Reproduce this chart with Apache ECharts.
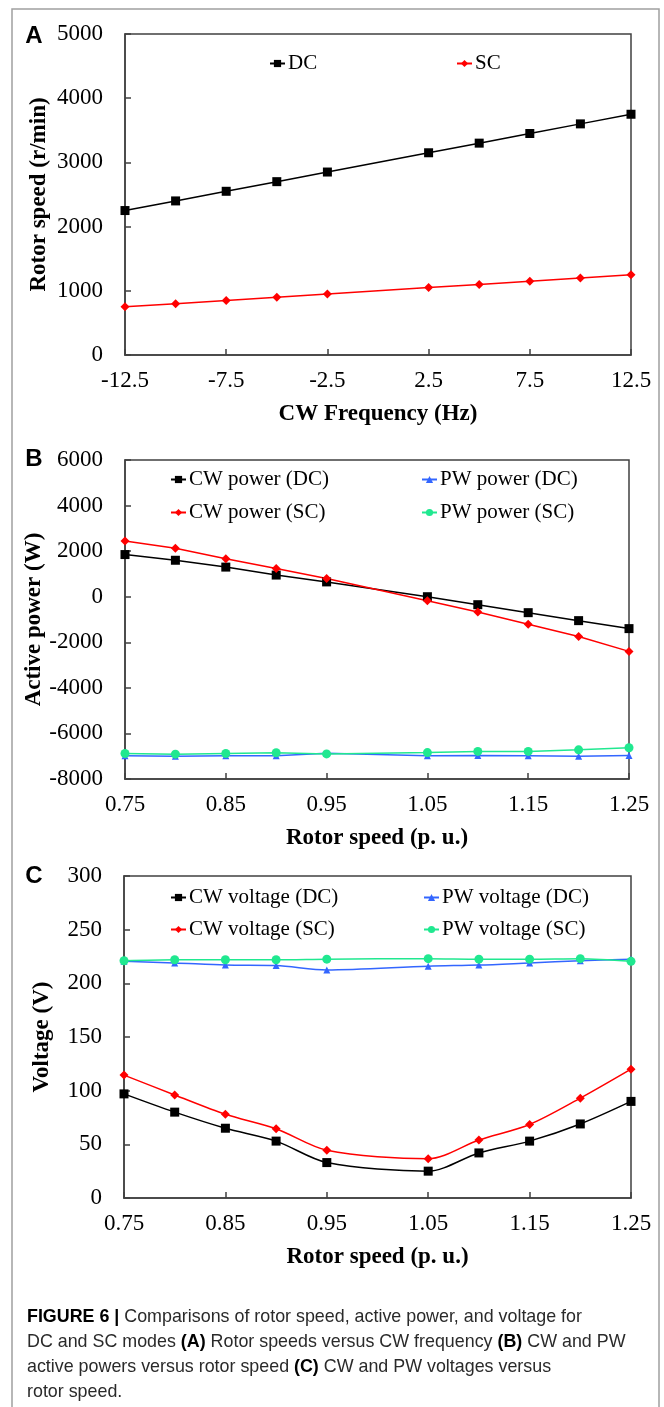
<!DOCTYPE html>
<html><head><meta charset="utf-8">
<script src="https://cdn.jsdelivr.net/npm/echarts@6/dist/echarts.min.js"></script>
<style>html,body{margin:0;padding:0;background:#fff}#c{width:664px;height:1407px}</style>
</head><body><div id="c"></div>
<script>
// ---- Panel A data ----
const freqA = [-12.5, -10, -7.5, -5, -2.5, 2.5, 5, 7.5, 10, 12.5];
const speedDC = [2250, 2400, 2550, 2700, 2850, 3150, 3300, 3450, 3600, 3750];
const speedSC = [750, 800, 850, 900, 950, 1050, 1100, 1150, 1200, 1250];
const ticksAX = [-12.5, -7.5, -2.5, 2.5, 7.5, 12.5];
const ticksAY = [0, 1000, 2000, 3000, 4000, 5000];
// ---- Panel B data ----
const rotorPU = [0.75, 0.8, 0.85, 0.9, 0.95, 1.05, 1.1, 1.15, 1.2, 1.25];
const cwPowerDC = [1850, 1600, 1300, 950, 650, 0, -350, -700, -1050, -1400];
const cwPowerSC = [2440, 2130, 1670, 1240, 800, -175, -670, -1210, -1750, -2400];
const pwPowerDC = [-6980, -7000, -6980, -6980, -6870, -6980, -6970, -6980, -7000, -6970];
const pwPowerSC = [-6880, -6910, -6880, -6850, -6900, -6840, -6790, -6790, -6720, -6630];
const ticksBY = [-8000, -6000, -4000, -2000, 0, 2000, 4000, 6000];
const ticksPU = [0.75, 0.85, 0.95, 1.05, 1.15, 1.25];
// ---- Panel C data ----
const cwVoltDC = [97, 80, 65, 53, 33, 25, 42, 53, 69, 90];
const cwVoltSC = [114.5, 96, 78, 64.5, 44.5, 36.5, 54, 68.5, 93, 120];
const pwVoltDC = [220.5, 219, 217, 216.5, 212.5, 216, 217, 219, 221, 222.5];
const pwVoltSC = [221, 222, 222, 222, 222.5, 223, 222.5, 222.5, 223, 220.5];
const ticksCY = [0, 50, 100, 150, 200, 250, 300];

const SERIF = '"Liberation Serif","Times New Roman",serif';
const SANS = '"Liberation Sans",Arial,sans-serif';
const AX = '#404040';
const BLACK = '#000000', RED = '#ff0000', BLUE = '#3366ff', GREEN = '#20e890';

function pairs(xs, ys) { return xs.map((x, i) => [x, ys[i]]); }

function xAxisCfg(gi, min, max, interval, ticks, name, dec) {
  return {
    type: 'value', gridIndex: gi, min: min, max: max, interval: interval,
    name: name, nameLocation: 'middle', nameGap: 48, nameMoveOverlap: false,
    nameTextStyle: { fontFamily: SERIF, fontWeight: 'bold', fontSize: 23, color: '#000' },
    axisLine: { show: true, onZero: false, lineStyle: { color: AX, width: 1.5 } },
    axisTick: { show: true, inside: true, length: 6, customValues: ticks, lineStyle: { color: AX, width: 1.5 } },
    axisLabel: { customValues: ticks, margin: 14, fontFamily: SERIF, fontSize: 23, color: '#000',
      formatter: v => Number(v).toFixed(dec) },
    splitLine: { show: false }
  };
}
function yAxisCfg(gi, min, max, interval, ticks, name, gap) {
  return {
    type: 'value', gridIndex: gi, min: min, max: max, interval: interval,
    name: name, nameLocation: 'middle', nameGap: gap, nameRotate: 90, nameMoveOverlap: false,
    nameTextStyle: { fontFamily: SERIF, fontWeight: 'bold', fontSize: 23, color: '#000' },
    axisLine: { show: true, onZero: false, lineStyle: { color: AX, width: 1.5 } },
    axisTick: { show: true, inside: true, length: 6, customValues: ticks, lineStyle: { color: AX, width: 1.5 } },
    axisLabel: { customValues: ticks, margin: 22, fontFamily: SERIF, fontSize: 23, color: '#000',
      formatter: v => String(Math.round(v)) },
    splitLine: { show: false }
  };
}
function lineSeries(name, gi, xs, ys, color, symbol, size, smooth) {
  return {
    name: name, type: 'line', xAxisIndex: gi, yAxisIndex: gi,
    data: pairs(xs, ys), smooth: smooth || false,
    symbol: symbol, symbolSize: size, showAllSymbol: true,
    lineStyle: { color: color, width: 1.5 },
    itemStyle: { color: color, borderWidth: 0 },
    emphasis: { disabled: true }
  };
}
function legendCfg(names, left, top, gap) {
  return {
    data: names, left: left, top: top, orient: 'vertical', itemGap: gap,
    itemWidth: 15, itemHeight: 9, selectedMode: false,
    textStyle: { fontFamily: SERIF, fontSize: 21, lineHeight: 21, color: '#000', padding: [0, 0, 0, -2] }
  };
}
const gridBase = { show: true, borderColor: AX, borderWidth: 1.5, backgroundColor: 'transparent', containLabel: false };

const chart = echarts.init(document.getElementById('c'), null, { renderer: 'canvas', width: 664, height: 1407 });
chart.setOption({
  animation: false,
  backgroundColor: '#ffffff',
  grid: [
    Object.assign({ left: 125, top: 34, width: 506, height: 321 }, gridBase),
    Object.assign({ left: 125, top: 460, width: 504, height: 319 }, gridBase),
    Object.assign({ left: 124, top: 876, width: 507, height: 322 }, gridBase)
  ],
  xAxis: [
    xAxisCfg(0, -12.5, 12.5, 5, ticksAX, 'CW Frequency (Hz)', 1),
    xAxisCfg(1, 0.75, 1.25, 0.1, ticksPU, 'Rotor speed (p. u.)', 2),
    xAxisCfg(2, 0.75, 1.25, 0.1, ticksPU, 'Rotor speed (p. u.)', 2)
  ],
  yAxis: [
    yAxisCfg(0, 0, 5000, 1000, ticksAY, 'Rotor speed (r/min)', 74),
    yAxisCfg(1, -8000, 6000, 2000, ticksBY, 'Active power (W)', 79),
    yAxisCfg(2, 0, 300, 50, ticksCY, 'Voltage (V)', 70)
  ],
  legend: [
    legendCfg(['DC'], 264, 48, 10),
    legendCfg(['SC'], 451, 48, 10),
    legendCfg(['CW power (DC)', 'CW power (SC)'], 165, 464, 12),
    legendCfg(['PW power (DC)', 'PW power (SC)'], 416, 464, 12),
    legendCfg(['CW voltage (DC)', 'CW voltage (SC)'], 165, 882, 11),
    legendCfg(['PW voltage (DC)', 'PW voltage (SC)'], 418, 882, 11)
  ],
  series: [
    lineSeries('DC', 0, freqA, speedDC, BLACK, 'rect', 9),
    lineSeries('SC', 0, freqA, speedSC, RED, 'diamond', 9),
    lineSeries('CW power (DC)', 1, rotorPU, cwPowerDC, BLACK, 'rect', 9),
    lineSeries('CW power (SC)', 1, rotorPU, cwPowerSC, RED, 'diamond', 9),
    lineSeries('PW power (DC)', 1, rotorPU, pwPowerDC, BLUE, 'triangle', 7),
    lineSeries('PW power (SC)', 1, rotorPU, pwPowerSC, GREEN, 'circle', 9),
    lineSeries('CW voltage (DC)', 2, rotorPU, cwVoltDC, BLACK, 'rect', 9, 0.3),
    lineSeries('CW voltage (SC)', 2, rotorPU, cwVoltSC, RED, 'diamond', 9, 0.3),
    lineSeries('PW voltage (DC)', 2, rotorPU, pwVoltDC, BLUE, 'triangle', 7, 0.3),
    lineSeries('PW voltage (SC)', 2, rotorPU, pwVoltSC, GREEN, 'circle', 9, 0.3)
  ],
  graphic: [
    { type: 'rect', silent: true, shape: { x: 12, y: 9, width: 647, height: 1420 },
      style: { fill: 'none', stroke: '#a0a0a0', lineWidth: 1.5 } },
    { type: 'text', x: 34, y: 36, silent: true,
      style: { text: 'A', font: 'bold 24px ' + SANS, fill: '#000', textAlign: 'center', textVerticalAlign: 'middle' } },
    { type: 'text', x: 34, y: 459, silent: true,
      style: { text: 'B', font: 'bold 24px ' + SANS, fill: '#000', textAlign: 'center', textVerticalAlign: 'middle' } },
    { type: 'text', x: 34, y: 876, silent: true,
      style: { text: 'C', font: 'bold 24px ' + SANS, fill: '#000', textAlign: 'center', textVerticalAlign: 'middle' } },
    { type: 'text', x: 27, y: 1304, scaleX: 0.94, silent: true,
      style: {
        text: '{b|FIGURE 6 |} Comparisons of rotor speed, active power, and voltage for\n' +
              'DC and SC modes {b|(A)} Rotor speeds versus CW frequency {b|(B)} CW and PW\n' +
              'active powers versus rotor speed {b|(C)} CW and PW voltages versus\n' +
              'rotor speed.',
        fontFamily: SANS, fontSize: 19, lineHeight: 25, fill: '#2a2a2a',
        rich: { b: { fontFamily: SANS, fontSize: 19, lineHeight: 25, fontWeight: 'bold', fill: '#000' } }
      } }
  ]
});
</script></body></html>
